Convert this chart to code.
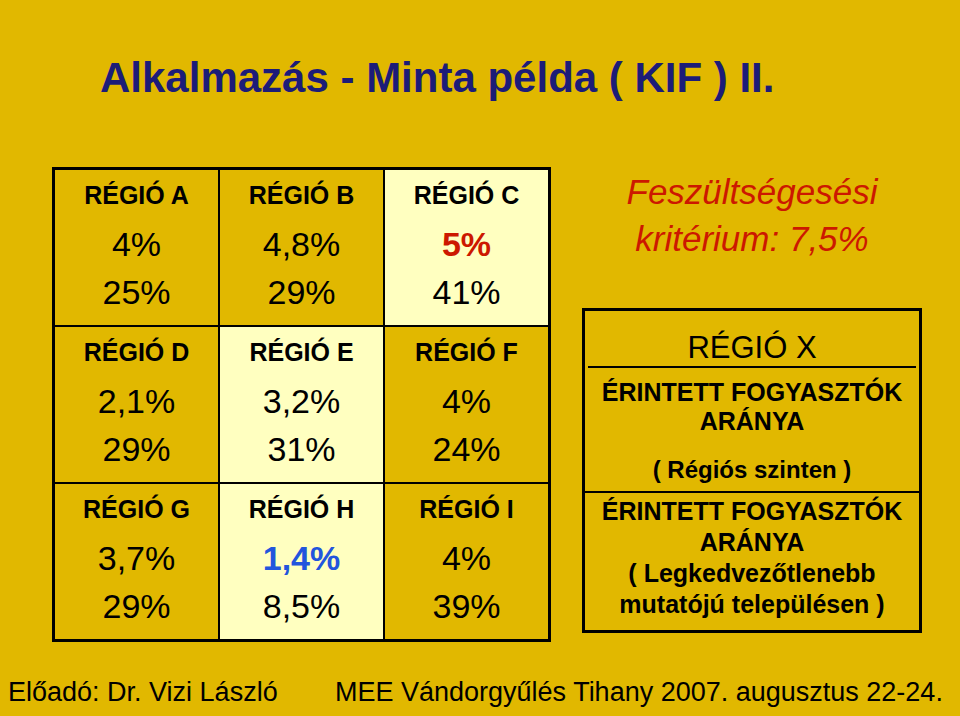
<!DOCTYPE html>
<html><head><meta charset="utf-8">
<script src="https://cdn.jsdelivr.net/npm/chart.js@4/dist/chart.umd.min.js"></script>
<style>
body{margin:0;width:960px;height:716px;background:#E1B800;font-family:"Liberation Sans",Arial,sans-serif;position:relative;overflow:hidden}
.abs{position:absolute}
#title{left:100px;top:54px;font-size:42px;font-weight:bold;color:#1C1C78;white-space:nowrap}
table{position:absolute;left:52px;top:167px;border-collapse:collapse;border:3px solid #000}
td{width:163px;height:155px;border:2px solid #000;text-align:center;vertical-align:top;padding:0;font-size:34px;color:#000}
td .n{font-size:25px;font-weight:bold;margin-top:11px;height:32px}
td .v{height:54px;line-height:62px}
td .p{line-height:50px}
.pale{background:#FFFFC0}
#krit{left:582px;top:168px;width:340px;text-align:center;color:#CC1800;font-style:italic;font-size:35px;line-height:47px}
#box{left:582px;top:308px;width:334px;height:319px;border:3px solid #000;text-align:center;font-weight:bold;color:#000}
#foot1{left:8px;top:677px;font-size:27px}
#foot2{left:335px;top:677px;font-size:27px;white-space:nowrap}
</style></head><body>
<div id="title" class="abs">Alkalmazás - Minta példa ( KIF ) II.</div>
<table id="tbl"></table>
<div id="krit" class="abs">Feszültségesési<br>kritérium: 7,5%</div>
<div id="box" class="abs">
 <div style="font-size:31px;font-weight:normal;height:55px;line-height:74px;border-bottom:2px solid #000;margin:0 3px">RÉGIÓ X</div>
 <div style="font-size:25px;line-height:29px;margin-top:10px">ÉRINTETT FOGYASZTÓK<br>ARÁNYA</div>
 <div style="font-size:24px;line-height:29px;margin-top:19px;height:36px">( Régiós szinten )</div>
 <div style="border-top:2px solid #000;font-size:25px;line-height:31px;padding-top:3px">ÉRINTETT FOGYASZTÓK<br>ARÁNYA<br>( Legkedvezőtlenebb<br>mutatójú településen )</div>
</div>
<div id="foot1" class="abs">Előadó: Dr. Vizi László</div>
<div id="foot2" class="abs">MEE Vándorgyűlés Tihany 2007. augusztus 22-24.</div>
<script>
const regions=["RÉGIÓ A","RÉGIÓ B","RÉGIÓ C","RÉGIÓ D","RÉGIÓ E","RÉGIÓ F","RÉGIÓ G","RÉGIÓ H","RÉGIÓ I"];
const voltageDrop=["4%","4,8%","5%","2,1%","3,2%","4%","3,7%","1,4%","4%"];
const affected=["25%","29%","41%","29%","31%","24%","29%","8,5%","39%"];
const paleCells=[2,4,7];
const highlight={2:"#CC1800",7:"#2255DD"};
const t=document.getElementById('tbl');
for(let r=0;r<3;r++){const tr=document.createElement('tr');
 for(let c=0;c<3;c++){const i=r*3+c;const td=document.createElement('td');
  if(paleCells.includes(i))td.className='pale';
  const st=highlight[i]?`color:${highlight[i]};font-weight:bold`:'';
  td.innerHTML=`<div class="n">${regions[i]}</div><div class="v" style="${st}">${voltageDrop[i]}</div><div class="p">${affected[i]}</div>`;
  tr.appendChild(td);}
 t.appendChild(tr);}
</script>
</body></html>
